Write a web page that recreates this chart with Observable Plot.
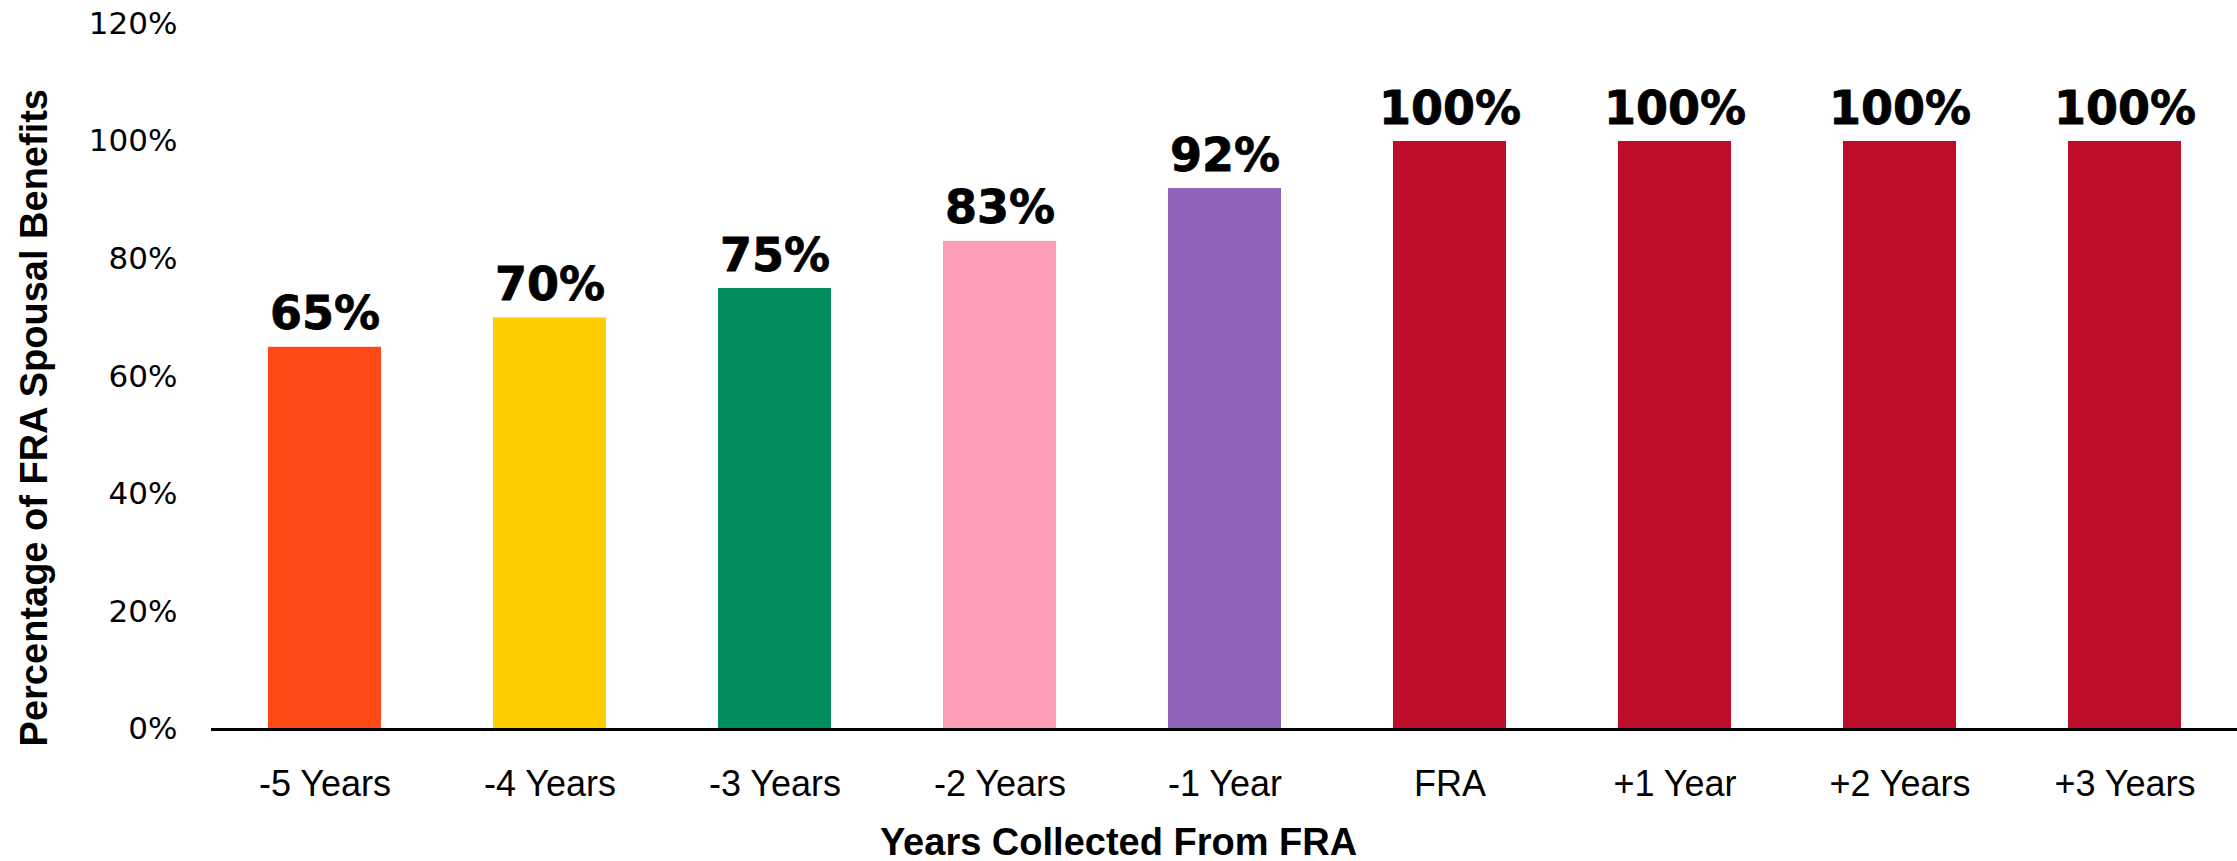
<!DOCTYPE html>
<html>
<head>
<meta charset="utf-8">
<script src="https://cdn.jsdelivr.net/npm/d3@7"></script>
<script src="https://cdn.jsdelivr.net/npm/@observablehq/plot@0.6"></script>
<style>
  html, body { margin: 0; padding: 0; background: #fff; overflow: hidden; }
  #chart svg { display: block; }
  #xtitle {
    width: 2237px; height: 46px; line-height: 54px; text-align: center;
    font-family: "Liberation Sans", Arial, sans-serif; font-weight: 700; font-size: 38px; color: #000;
  }
</style>
</head>
<body>
<div id="chart"></div>
<div id="xtitle"></div>
<script>
const categories = ["-5 Years", "-4 Years", "-3 Years", "-2 Years", "-1 Year", "FRA", "+1 Year", "+2 Years", "+3 Years"];
const values = [65, 70, 75, 83, 92, 100, 100, 100, 100];
const barColors = ["#FF4A16", "#FFCE00", "#008C5C", "#FF9DB4", "#8F63BB", "#BE0D2B", "#BE0D2B", "#BE0D2B", "#BE0D2B"];
const yTicks = [0, 20, 40, 60, 80, 100, 120];
const yTitle = "Percentage of FRA Spousal Benefits";
const xTitle = "Years Collected From FRA";

const data = categories.map((c, i) => ({category: c, value: values[i]}));

const chart = Plot.plot({
  width: 2237,
  height: 815,
  marginLeft: 211,
  marginRight: 0,
  marginTop: 23.4,
  marginBottom: 86,
  style: {background: "white", color: "black"},
  x: {domain: categories, paddingInner: 0.5, paddingOuter: 0.25, label: null},
  y: {domain: [0, 120], label: null},
  color: {domain: categories, range: barColors},
  marks: [
    Plot.barY(data, {x: "category", y: "value", fill: "category"}),
    Plot.ruleY([0], {stroke: "black", strokeWidth: 3}),
    Plot.text(data, {
      x: "category", y: "value", text: d => d.value + "%",
      lineAnchor: "bottom", dy: -18,
      fontSize: 46, fontWeight: 700, fontFamily: "DejaVu Sans", fill: "black",
      stroke: "black", strokeWidth: 0.8
    }),
    Plot.axisX({
      tickSize: 0, tickPadding: 41, label: null,
      fontSize: 36, fontFamily: "Liberation Sans", fill: "black"
    }),
    Plot.axisY({
      ticks: yTicks, tickSize: 0, tickPadding: 34, label: null,
      tickFormat: d => d + "%",
      fontSize: 31, fontFamily: "DejaVu Sans", fill: "black"
    }),
    Plot.text([yTitle], {
      frameAnchor: "left", textAnchor: "middle", rotate: -90, dx: -177, dy: 41,
      text: d => d, fontSize: 38, fontWeight: 700,
      fontFamily: "Liberation Sans", fill: "black"
    })
  ]
});
document.getElementById("chart").appendChild(chart);
document.getElementById("xtitle").textContent = xTitle;
</script>
</body>
</html>
